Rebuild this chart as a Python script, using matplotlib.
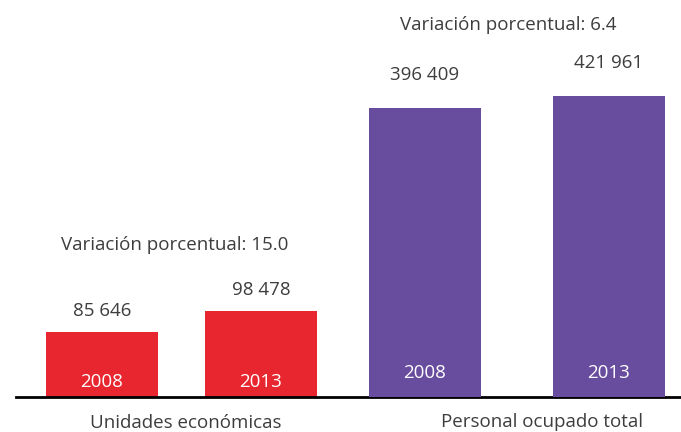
import matplotlib
import numpy as np
import matplotlib.pyplot as plt

matplotlib.use('Agg')
plt.rcParams['font.family'] = ['Open Sans', 'DejaVu Sans']

years = ['2008', '2013']
unidades = np.array([85646, 98478])
personal = np.array([396409, 421961])
var_unidades = 15.0
var_personal = 6.4
group_names = ['Unidades económicas', 'Personal ocupado total']

RED = '#e8262f'
PURPLE = '#684c9e'
GREY = '#3d3d3d'
FS = 13.5

W, H = 681, 432


def fmt(v):
    return f'{v:,}'.replace(',', ' ')


fig = plt.figure(figsize=(W / 100, H / 100), dpi=100)
base_px = 397
ax = fig.add_axes([0, (H - base_px) / H, 1, base_px / H])
ax2 = ax.twinx()

# the original bars are not drawn to a common zero, so each group gets its own scale
ax.set_ylim(45900, 288500)
ax2.set_ylim(-219000, 626400)
for a in (ax, ax2):
    a.set_xlim(0, W)
    a.axis('off')

red_x = np.array([102, 261])
pur_x = np.array([425, 609])
bw = 112

b1 = ax.get_ylim()[0]
b2 = ax2.get_ylim()[0]
ax.bar(red_x, unidades - b1, bottom=b1, width=bw, color=RED)
ax2.bar(pur_x, personal - b2, bottom=b2, width=bw, color=PURPLE)

for x, v, yr in zip(red_x, unidades, years):
    ax.annotate(fmt(v), (x, v), xytext=(0, 21), textcoords='offset pixels',
                ha='center', va='center', fontsize=FS, color=GREY)
    ax.annotate(yr, (x, b1), xytext=(0, 15), textcoords='offset pixels',
                ha='center', va='center', fontsize=FS, color='white')
for x, v, yr in zip(pur_x, personal, years):
    ax2.annotate(fmt(v), (x, v), xytext=(0, 33), textcoords='offset pixels',
                 ha='center', va='center', fontsize=FS, color=GREY)
    ax2.annotate(yr, (x, b2), xytext=(0, 24), textcoords='offset pixels',
                 ha='center', va='center', fontsize=FS, color='white')

fig.text(175 / W, 1 - 245 / H, f'Variación porcentual: {var_unidades:.1f}',
         ha='center', va='center', fontsize=FS, color=GREY)
fig.text(508 / W, 1 - 25 / H, f'Variación porcentual: {var_personal:.1f}',
         ha='center', va='center', fontsize=FS, color=GREY)

fig.text(186 / W, 1 - 423 / H, group_names[0], ha='center', va='center',
         fontsize=FS, color=GREY)
fig.text(542 / W, 1 - 422 / H, group_names[1], ha='center', va='center',
         fontsize=FS, color=GREY)

ax.axhline(b1, xmin=16 / W, xmax=1, color='black', lw=2, clip_on=False)

fig.savefig('out.png', dpi=100)
